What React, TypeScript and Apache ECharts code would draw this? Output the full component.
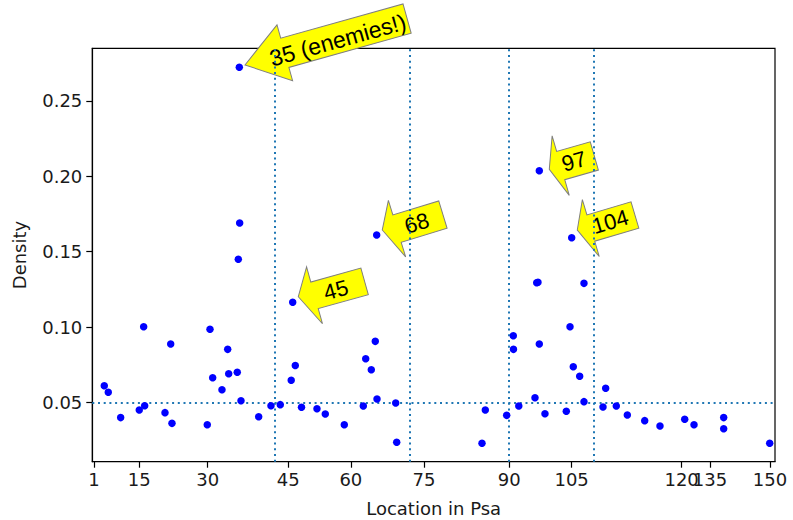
import React, { useEffect, useRef } from "react";
import * as echarts from "echarts";

// Data (x in axis units, y = density)
const xs = [
  3.27, 4.15, 6.88, 10.98, 11.95, 12.17, 16.65, 17.91, 18.19, 25.97,
  26.57, 27.16, 29.21, 30.47, 30.69, 32.58, 32.81, 33.03, 33.11, 33.4,
  37.3, 40.01, 42.06, 44.47, 44.8, 45.37, 46.74, 50.15, 51.98, 56.17,
  60.36, 60.89, 62.12, 63.0, 63.31, 63.38, 67.5, 67.72, 86.52, 87.25,
  91.96, 93.42, 93.46, 94.63, 98.2, 98.58, 98.86, 99.15, 99.15, 100.4,
  105.1, 105.92, 106.29, 106.64, 108.05, 109.0, 109.0, 113.19, 113.78, 116.12,
  118.55, 122.38, 125.75, 131.2, 133.25, 139.79, 139.79, 149.93,
];
const ys = [
  0.0611, 0.0567, 0.0399, 0.045, 0.1002, 0.0478, 0.0432, 0.0888, 0.0361, 0.0352,
  0.0985, 0.0664, 0.0584, 0.0852, 0.069, 0.07, 0.145, 0.2724, 0.169, 0.0511,
  0.0405, 0.0478, 0.0485, 0.0647, 0.1164, 0.0745, 0.0468, 0.0458, 0.0423, 0.0352,
  0.0476, 0.079, 0.0717, 0.0905, 0.1611, 0.0523, 0.0496, 0.0235, 0.0229, 0.045,
  0.0414, 0.0942, 0.0852, 0.0476, 0.0531, 0.1294, 0.1297, 0.2037, 0.0888, 0.0425,
  0.0441, 0.1002, 0.1593, 0.0737, 0.0673, 0.129, 0.0505, 0.047, 0.0594, 0.0476,
  0.0416, 0.0379, 0.0343, 0.0388, 0.0352, 0.0399, 0.0325, 0.0229,
];

const xTickPositions = [1, 10.98, 26.06, 43.8, 57.62, 73.74, 92.52, 106.27, 130.52, 136.77, 150];
const xTickLabels = ["1", "15", "30", "45", "60", "75", "90", "105", "120", "135", "150"];
const yTicks = [0.05, 0.1, 0.15, 0.2, 0.25];
const verticalLines = [40.74, 70.65, 92.47, 111.2];
const horizontalLine = 0.05;

const annotationTexts = ["35 (enemies!)", "45", "68", "97", "104"];
const annotationIndices = [17, 24, 34, 47, 52];

// Arrow shape styles (pixels, local frame: tip at origin, body to the right)
const arrowStyles = [
  { hl: 41.6, hw: 29, bh: 15.2, L: 127, vc: -1, rot: 15.6, dx: 5.7, dy: -2.3, tx: 96, ty: 1, fs: 23 },
  { hl: 16, hw: 29.5, bh: 13.8, L: 52, vc: 3, rot: 15.6, dx: 5.6, dy: -5.6, tx: 38, ty: 3.6, fs: 22 },
  { hl: 14.5, hw: 29.6, bh: 14.3, L: 48, vc: 3, rot: 17, dx: 5.6, dy: -5, tx: 35, ty: 3.6, fs: 22 },
  { hl: 12, hw: 31, bh: 14.7, L: 35, vc: -0.5, rot: 16, dx: 10, dy: -1.4, tx: 26, ty: -1, fs: 22 },
  { hl: 13.5, hw: 29.7, bh: 13.7, L: 46, vc: 2, rot: 16.5, dx: 5.6, dy: -7.7, tx: 34, ty: 1.5, fs: 22 },
];

const TICK_FONT = "DejaVu Sans";

export default function App() {
  const ref = useRef<HTMLDivElement>(null);

  useEffect(() => {
    document.body.style.margin = "0";
    if (!ref.current) return;
    const chart = echarts.init(ref.current, undefined, { renderer: "svg" });

    const points = xs.map((x, i) => [x, ys[i]]);

    chart.setOption({
      animation: false,
      backgroundColor: "#ffffff",
      grid: {
        left: 92.3,
        right: 18,
        top: 48.3,
        bottom: 58.3,
        show: true,
        borderColor: "#000",
        borderWidth: 1.2,
        backgroundColor: "transparent",
        outerBoundsMode: "none",
      },
      xAxis: {
        type: "value",
        min: 0.63,
        max: 151.1,
        name: "Location in Psa",
        nameLocation: "middle",
        nameGap: 38,
        nameTextStyle: { fontSize: 18, fontFamily: TICK_FONT, color: "#1a1a1a" },
        axisLine: { show: true, onZero: false, lineStyle: { color: "#000", width: 1.2 } },
        axisTick: {
          show: true,
          length: 6,
          customValues: xTickPositions,
          lineStyle: { color: "#000", width: 1.2 },
        },
        axisLabel: {
          customValues: xTickPositions,
          fontSize: 18,
          fontFamily: TICK_FONT,
          color: "#1a1a1a",
          margin: 9,
          hideOverlap: false,
          formatter: (v: number) => {
            let best = 0;
            for (let i = 0; i < xTickPositions.length; i++) {
              if (Math.abs(xTickPositions[i] - v) < Math.abs(xTickPositions[best] - v)) best = i;
            }
            return xTickLabels[best];
          },
        },
        splitLine: { show: false },
      },
      yAxis: {
        type: "value",
        min: 0.01065,
        max: 0.28497,
        name: "Density",
        nameLocation: "middle",
        nameGap: 64,
        nameTextStyle: { fontSize: 18, fontFamily: TICK_FONT, color: "#1a1a1a" },
        axisLine: { show: true, onZero: false, lineStyle: { color: "#000", width: 1.2 } },
        axisTick: {
          show: true,
          length: 6,
          customValues: yTicks,
          lineStyle: { color: "#000", width: 1.2 },
        },
        axisLabel: {
          customValues: yTicks,
          fontSize: 18,
          fontFamily: TICK_FONT,
          color: "#1a1a1a",
          margin: 10,
          formatter: (v: number) => v.toFixed(2),
        },
        splitLine: { show: false },
      },
      series: [
        {
          type: "scatter",
          data: points,
          symbol: "circle",
          symbolSize: 7.5,
          itemStyle: { color: "#0000ff", opacity: 1 },
          z: 3,
          markLine: {
            silent: true,
            symbol: ["none", "none"],
            label: { show: false },
            z: 2,
            lineStyle: { color: "#1f77b4", width: 2, type: [2, 3.7], opacity: 1 },
            data: [
              ...verticalLines.map((v) => ({ xAxis: v })),
              { yAxis: horizontalLine },
            ],
          },
        },
      ],
    });

    const graphics = annotationIndices.map((idx, k) => {
      const a = arrowStyles[k];
      const p = chart.convertToPixel({ xAxisIndex: 0, yAxisIndex: 0 }, [xs[idx], ys[idx]]) as number[];
      const { hl, hw, bh, L, vc } = a;
      return {
        type: "group",
        x: p[0] + a.dx,
        y: p[1] + a.dy,
        rotation: (a.rot * Math.PI) / 180,
        z: 10,
        children: [
          {
            type: "polygon",
            shape: {
              points: [
                [0, 0],
                [hl, vc - hw],
                [hl, vc - bh],
                [hl + L, vc - bh],
                [hl + L, vc + bh],
                [hl, vc + bh],
                [hl, vc + hw],
              ],
            },
            style: { fill: "#ffff00", stroke: "#7f7f7f", lineWidth: 1 },
          },
          {
            type: "text",
            x: a.tx,
            y: a.ty,
            style: {
              text: annotationTexts[k],
              fontSize: a.fs,
              fontFamily: "Liberation Sans",
              fill: "#000",
              align: "center",
              verticalAlign: "middle",
              textAlign: "center",
              textVerticalAlign: "middle",
            },
          },
        ],
      };
    });
    chart.setOption({ graphic: graphics });

    return () => chart.dispose();
  }, []);

  return <div ref={ref} style={{ width: 793, height: 520 }} />;
}
